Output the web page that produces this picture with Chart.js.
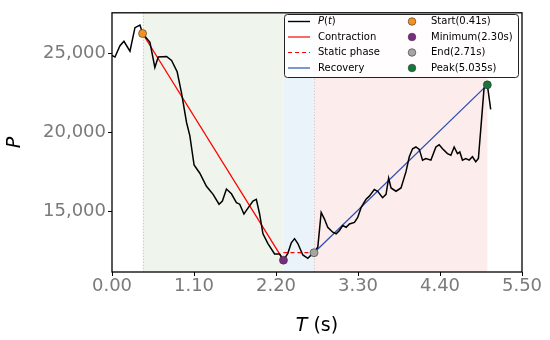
<!DOCTYPE html>
<html>
<head>
<meta charset="utf-8">
<script src="https://cdn.jsdelivr.net/npm/chart.js@4.4.1/dist/chart.umd.min.js"></script>
<style>
  body { margin: 0; background: #fff; }
</style>
</head>
<body>
<canvas id="myChart" width="550" height="340"></canvas>
<script>
// pressure trace
var timeS = [0.00, 0.04, 0.107, 0.16, 0.241, 0.308, 0.375, 0.41, 0.509, 0.575, 0.620, 0.732, 0.799, 0.874,
  0.933, 1.000, 1.044, 1.101, 1.178, 1.267, 1.356, 1.436, 1.481, 1.535, 1.602, 1.669, 1.713, 1.770, 1.824,
  1.891, 1.936, 1.980, 2.025, 2.092, 2.181, 2.248, 2.30, 2.359, 2.405, 2.449, 2.493, 2.560, 2.627, 2.672,
  2.71, 2.761, 2.806, 2.850, 2.894, 2.961, 3.007, 3.051, 3.095, 3.141, 3.185, 3.252, 3.296, 3.341, 3.408,
  3.452, 3.519, 3.564, 3.630, 3.676, 3.711, 3.743, 3.810, 3.877, 3.944, 3.988, 4.032, 4.077, 4.122, 4.166,
  4.211, 4.278, 4.345, 4.389, 4.434, 4.500, 4.546, 4.590, 4.634, 4.666, 4.701, 4.747, 4.791, 4.835, 4.880,
  4.915, 4.947, 4.991, 5.035, 5.08];
var pressure = [24850, 24750, 25470, 25750, 25120, 26610, 26780, 26240, 25680, 24090, 24750, 24790, 24540, 23820,
  22470, 20610, 19780, 17920, 17400, 16570, 16060, 15440, 15640, 16400, 16100, 15540, 15440, 14820, 15190,
  15640, 15750, 14820, 13570, 12950, 12290, 12290, 11900, 12330, 13000, 13260, 12950, 12230, 12020, 12230,
  12370, 12740, 14920, 14500, 13980, 13670, 13570, 13780, 14090, 13980, 14190, 14290, 14600, 15220, 15750,
  15950, 16370, 16260, 15850, 16060, 17090, 16470, 16260, 16470, 17500, 18440, 18950, 19060, 18910, 18230,
  18330, 18230, 19060, 19200, 18950, 18640, 18540, 19060, 18640, 18740, 18230, 18330, 18230, 18440, 18130,
  18330, 20190, 22780, 22990, 21440];

var eventNames = ['Start(0.41s)', 'Minimum(2.30s)', 'End(2.71s)', 'Peak(5.035s)'];
var eventTimes = [0.41, 2.30, 2.71, 5.035];
var eventValues = [26240, 11900, 12370, 22990];
var eventColors = ['#f7901e', '#7b2a86', '#a5a5a5', '#16773a'];
var staticLevel = 12370;

var xTicks = [0, 1.1, 2.2, 3.3, 4.4, 5.5];
var yTicks = [15000, 20000, 25000];

var phaseColors = ['#eff5ec', '#ebf3fa', '#fcecec'];

var ctx = document.getElementById('myChart').getContext('2d');

function pts(xs, ys) {
  return xs.map(function (x, i) { return { x: x, y: ys[i] }; });
}

var markerSets = eventNames.map(function (name, i) {
  return {
    label: name,
    data: [{ x: eventTimes[i], y: eventValues[i] }],
    showLine: false,
    pointRadius: 4,
    pointBackgroundColor: eventColors[i],
    pointBorderColor: '#333',
    pointBorderWidth: 0.6,
    order: 0
  };
});

var phases = {
  id: 'phases',
  beforeDatasetsDraw: function (chart) {
    var c = chart.ctx, a = chart.chartArea, xs = chart.scales.x;
    var bounds = [eventTimes[0], eventTimes[1], eventTimes[2], eventTimes[3]];
    c.save();
    for (var i = 0; i < 3; i++) {
      var x0 = xs.getPixelForValue(bounds[i]);
      var x1 = xs.getPixelForValue(bounds[i + 1]);
      c.fillStyle = phaseColors[i];
      c.fillRect(x0, a.top, x1 - x0, a.bottom - a.top);
    }
    c.strokeStyle = '#c4c4c4';
    c.lineWidth = 1;
    c.setLineDash([1, 2]);
    [eventTimes[0], eventTimes[2]].forEach(function (t) {
      var x = Math.round(xs.getPixelForValue(t)) + 0.5;
      c.beginPath();
      c.moveTo(x, a.top);
      c.lineTo(x, a.bottom);
      c.stroke();
    });
    c.restore();
  }
};

function italicPiece(c, parts, x, y, size) {
  // parts: [[text, italic], ...] drawn left to right starting at x
  parts.forEach(function (p) {
    c.font = (p[1] ? 'italic ' : '') + size + 'px "DejaVu Sans"';
    c.fillText(p[0], x, y);
    x += c.measureText(p[0]).width;
  });
}

var frame = {
  id: 'frame',
  afterDraw: function (chart) {
    var c = chart.ctx, a = chart.chartArea;
    c.save();
    c.strokeStyle = '#000';
    c.lineWidth = 1.3;
    c.strokeRect(a.left, a.top, a.right - a.left, a.bottom - a.top);

    // axis titles
    c.fillStyle = '#000';
    c.textBaseline = 'middle';
    c.textAlign = 'left';
    var size = 19;
    c.font = 'italic ' + size + 'px "DejaVu Sans"';
    var wT = c.measureText('T').width;
    c.font = size + 'px "DejaVu Sans"';
    var wS = c.measureText(' (s)').width;
    var cx = (a.left + a.right) / 2;
    italicPiece(c, [['T', true], [' (s)', false]], cx - (wT + wS) / 2, 326, size);

    c.save();
    c.translate(15, (a.top + a.bottom) / 2);
    c.rotate(-Math.PI / 2);
    c.textAlign = 'center';
    c.font = 'italic ' + size + 'px "DejaVu Sans"';
    c.fillText('P', 0, 0);
    c.restore();

    // legend, two columns
    var lx = 284, ly = 14, lw = 234, lh = 63;
    c.beginPath();
    c.roundRect(lx + 0.5, ly + 0.5, lw, lh, 3);
    c.fillStyle = 'rgba(255,255,255,0.9)';
    c.fill();
    c.strokeStyle = '#222';
    c.lineWidth = 1;
    c.stroke();

    var rows = [21.5, 37, 52.5, 68];
    var lines = [
      { color: '#000', dash: [] },
      { color: '#ff0000', dash: [] },
      { color: '#ff0000', dash: [4, 3] },
      { color: '#2d4fb0', dash: [] }
    ];
    c.textAlign = 'left';
    c.textBaseline = 'middle';
    lines.forEach(function (l, i) {
      c.strokeStyle = l.color;
      c.lineWidth = i === 0 ? 1.4 : 1.2;
      c.setLineDash(l.dash);
      c.beginPath();
      c.moveTo(288, rows[i]);
      c.lineTo(310, rows[i]);
      c.stroke();
    });
    c.setLineDash([]);
    c.fillStyle = '#000';
    italicPiece(c, [['P', true], ['(', false], ['t', true], [')', false]], 318, rows[0], 10);
    c.font = '10px "DejaVu Sans"';
    c.fillText('Contraction', 318, rows[1]);
    c.fillText('Static phase', 318, rows[2]);
    c.fillText('Recovery', 318, rows[3]);

    eventNames.forEach(function (name, i) {
      c.beginPath();
      c.arc(412, rows[i], 3.8, 0, Math.PI * 2);
      c.fillStyle = eventColors[i];
      c.fill();
      c.strokeStyle = '#333';
      c.lineWidth = 0.6;
      c.stroke();
      c.fillStyle = '#000';
      c.font = '10px "DejaVu Sans"';
      c.fillText(name, 431, rows[i]);
    });
    c.restore();
  }
};

var myChart = new Chart(ctx, {
  type: 'scatter',
  data: {
    datasets: markerSets.concat([
      {
        label: 'P(t)',
        data: pts(timeS, pressure),
        showLine: true,
        borderColor: '#000',
        borderWidth: 1.5,
        pointRadius: 0,
        tension: 0,
        order: 1
      },
      {
        label: 'Contraction',
        data: pts([eventTimes[0], eventTimes[1]], [eventValues[0], eventValues[1]]),
        showLine: true,
        borderColor: '#ff0000',
        borderWidth: 1.3,
        pointRadius: 0,
        order: 2
      },
      {
        label: 'Static phase',
        data: pts([eventTimes[1], eventTimes[2]], [staticLevel, staticLevel]),
        showLine: true,
        borderColor: '#ff0000',
        borderDash: [4, 3],
        borderWidth: 1.3,
        pointRadius: 0,
        order: 2
      },
      {
        label: 'Recovery',
        data: pts([eventTimes[2], eventTimes[3]], [eventValues[2], eventValues[3]]),
        showLine: true,
        borderColor: '#2d4fb0',
        borderWidth: 1.3,
        pointRadius: 0,
        order: 2
      }
    ])
  },
  options: {
    responsive: false,
    animation: false,
    layout: { padding: { left: 0, right: 28, top: 8, bottom: 0 } },
    plugins: {
      legend: { display: false },
      tooltip: { enabled: false }
    },
    scales: {
      x: {
        type: 'linear',
        min: 0,
        max: 5.5,
        afterBuildTicks: function (scale) {
          scale.ticks = xTicks.map(function (v) { return { value: v }; });
        },
        afterFit: function (scale) { scale.height = 68; },
        border: { display: false },
        grid: { drawOnChartArea: false, drawTicks: true, tickLength: 4, color: '#000', lineWidth: 1 },
        ticks: {
          padding: 0,
          maxRotation: 0,
          autoSkip: false,
          color: '#7a7a7a',
          font: { family: 'DejaVu Sans', size: 18 },
          callback: function (v) { return v.toFixed(2); }
        }
      },
      y: {
        type: 'linear',
        min: 11150,
        max: 27550,
        afterBuildTicks: function (scale) {
          scale.ticks = yTicks.map(function (v) { return { value: v }; });
        },
        afterFit: function (scale) { scale.width = 112; },
        border: { display: false },
        grid: { drawOnChartArea: false, drawTicks: true, tickLength: 4, color: '#000', lineWidth: 1 },
        ticks: {
          padding: 2,
          autoSkip: false,
          color: '#7a7a7a',
          font: { family: 'DejaVu Sans', size: 18 },
          callback: function (v) { return v.toLocaleString('en-US'); }
        }
      }
    }
  },
  plugins: [phases, frame]
});
</script>
</body>
</html>
